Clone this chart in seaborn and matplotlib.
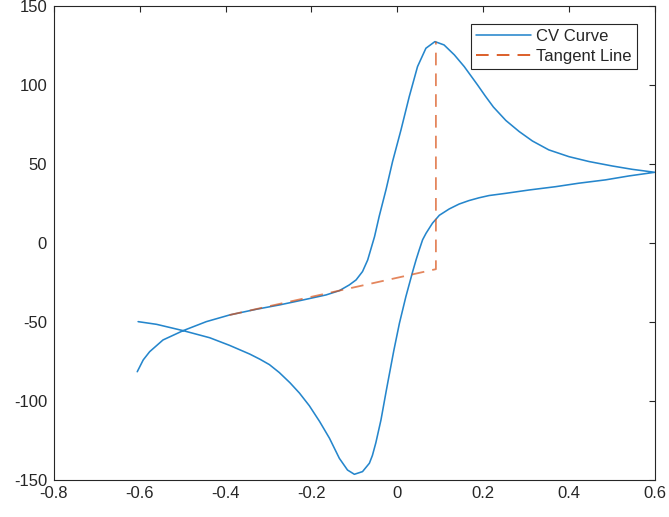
import matplotlib
matplotlib.use("Agg")
import matplotlib.pyplot as plt
import seaborn as sns
import pandas as pd

# CV curve: forward sweep (-0.6 -> 0.6)
fwd_x = [-0.606, -0.592, -0.577, -0.546, -0.499, -0.445, -0.391, -0.329, -0.274,
         -0.22, -0.166, -0.135, -0.112, -0.096, -0.081, -0.069, -0.061, -0.053,
         -0.042, -0.026, -0.011, 0.0086, 0.0279, 0.0472, 0.0667, 0.0877, 0.109,
         0.133, 0.156, 0.187, 0.205, 0.224, 0.253, 0.284, 0.315, 0.353, 0.4, 0.447,
         0.501, 0.547, 0.6]
fwd_y = [-81.5, -74.0, -68.8, -61.4, -55.5, -49.8, -45.6, -42.0, -39.2,
         -36.1, -32.9, -30.2, -26.6, -23.4, -18.1, -10.8, -3.4, 4.0,
         17.0, 34.0, 51.5, 71.5, 92.6, 111.6, 123.2, 127.4, 125.3,
         119.0, 111.6, 100.0, 93.0, 86.0, 77.5, 70.5, 64.5, 58.9, 54.6, 51.5,
         48.7, 46.6, 44.7]
# reverse sweep (0.6 -> -0.6)
rev_x = [0.6, 0.54, 0.485, 0.423, 0.369, 0.307, 0.253, 0.214, 0.191, 0.167,
         0.144, 0.121, 0.098, 0.082, 0.067, 0.059, 0.051, 0.044, 0.036, 0.02,
         0.005, -0.008, -0.021, -0.026, -0.038, -0.05, -0.058, -0.065, -0.081,
         -0.1, -0.116, -0.135, -0.158, -0.181, -0.205, -0.228, -0.25, -0.275,
         -0.298, -0.32, -0.344, -0.391, -0.437, -0.499, -0.561, -0.604]
rev_y = [44.7, 42.4, 39.9, 37.8, 35.6, 33.5, 31.4, 30.0, 28.6, 26.8,
         24.6, 21.5, 17.5, 12.5, 6.1, 2.0, -4.5, -10.5, -18.0, -34.0,
         -50.8, -68.0, -86.7, -94.0, -112.0, -126.5, -134.5, -139.4, -144.7,
         -146.4, -143.7, -136.3, -123.6, -113.0, -103.0, -95.0, -88.5, -82.0,
         -77.0, -73.6, -70.3, -64.8, -60.0, -55.5, -51.5, -49.8]

# tangent line then vertical up to the peak
tan_x = [-0.391, 0.09, 0.09]
tan_y = [-45.6, -16.6, 127.4]

x_ticks = [-0.8, -0.6, -0.4, -0.2, 0, 0.2, 0.4, 0.6]
x_labels = ["-0.8", "-0.6", "-0.4", "-0.2", "0", "0.2", "0.4", "0.6"]
y_ticks = [-150, -100, -50, 0, 50, 100, 150]

df_cv = pd.DataFrame({"x": fwd_x + rev_x, "y": fwd_y + rev_y})
df_tan = pd.DataFrame({"x": tan_x, "y": tan_y})

sns.set_style("white")
plt.rcParams["font.family"] = ["Liberation Sans", "DejaVu Sans"]
plt.rcParams["axes.unicode_minus"] = False

fig = plt.figure(figsize=(6.69, 5.17), dpi=100)
ax = fig.add_axes([0.0807, 0.0716, 0.898, 0.917])

sns.lineplot(data=df_cv, x="x", y="y", sort=False, estimator=None, color="#2586cc",
             lw=1.15, label="CV Curve", ax=ax)
sns.lineplot(data=df_tan, x="x", y="y", sort=False, estimator=None, color="#D95319",
             lw=1.3, linestyle=(0, (7, 4.5)), alpha=0.7, label="Tangent Line", ax=ax)

ax.set_xlim(-0.8, 0.6)
ax.set_ylim(-150, 150)
ax.set_xticks(x_ticks)
ax.set_xticklabels(x_labels)
ax.set_yticks(y_ticks)
ax.set_xlabel("")
ax.set_ylabel("")
ax.tick_params(direction="in", length=4, width=0.8, colors="#262626",
               labelsize=12, top=True, right=True, pad=4)
ax.tick_params(axis="y", pad=5)
for sp in ax.spines.values():
    sp.set_visible(True)
    sp.set_color("#262626")
    sp.set_linewidth(0.8)

leg = ax.legend(loc="upper right", bbox_to_anchor=(0.97, 0.962), fontsize=12,
                frameon=True, fancybox=False, framealpha=1, edgecolor="#262626",
                borderpad=0.3, handlelength=3.3, handletextpad=0.3, labelspacing=0.3,
                borderaxespad=0)
leg.get_frame().set_linewidth(0.8)
for h in leg.get_lines():
    h.set_alpha(1)

fig.savefig("out.png", dpi=100)
plt.close(fig)
